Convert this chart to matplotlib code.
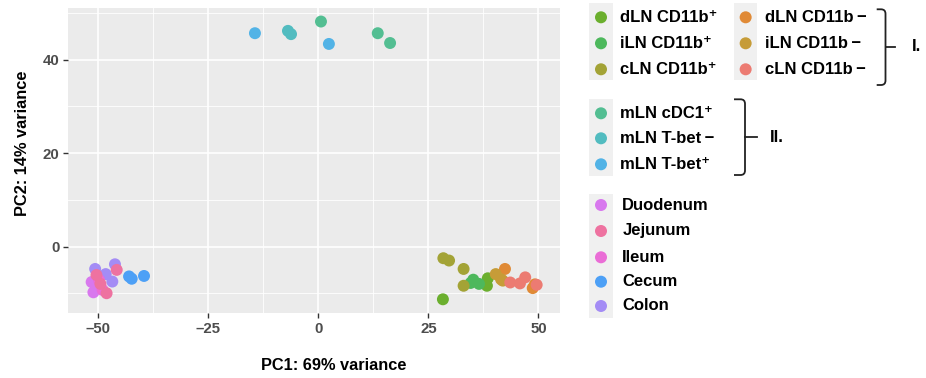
import matplotlib
matplotlib.use("Agg")
import matplotlib.pyplot as plt
from matplotlib.patches import Rectangle, Circle
from matplotlib.path import Path
from matplotlib.patches import PathPatch

plt.rcParams['font.family'] = ['Liberation Sans', 'DejaVu Sans']
plt.rcParams['font.weight'] = 'bold'

# ---------------- data ----------------
group1_labels = ["dLN CD11b\u207a", "iLN CD11b\u207a", "cLN CD11b\u207a",
                 "dLN CD11b\u2009\u2212", "iLN CD11b\u2009\u2212", "cLN CD11b\u2009\u2212"]
group2_labels = ["mLN cDC1\u207a", "mLN T-bet\u2009\u2212", "mLN T-bet\u207a"]
group3_labels = ["Duodenum", "Jejunum", "Ileum", "Cecum", "Colon"]

colors = {
    "dLN CD11b\u207a": "#6BAF2E", "iLN CD11b\u207a": "#4DB85C", "cLN CD11b\u207a": "#A3A336",
    "dLN CD11b\u2009\u2212": "#E08A36", "iLN CD11b\u2009\u2212": "#C69C38", "cLN CD11b\u2009\u2212": "#EC7B72",
    "mLN cDC1\u207a": "#53BE92", "mLN T-bet\u2009\u2212": "#52BCC0", "mLN T-bet\u207a": "#52B3E6",
    "Duodenum": "#D878EE", "Jejunum": "#EE72A0", "Ileum": "#EA6DD6",
    "Cecum": "#4DA0F6", "Colon": "#A48CF5",
}

dLN_pos_x = [28.3, 38.5, 38.3]
dLN_pos_y = [-11.3, -6.8, -8.4]
iLN_pos_x = [35.2, 36.5, 34.6]
iLN_pos_y = [-7.1, -8.0, -7.8]
cLN_pos_x = [28.4, 29.7, 33.0, 33.0]
cLN_pos_y = [-2.5, -3.0, -4.8, -8.4]
dLN_neg_x = [42.4, 48.7, 49.2]
dLN_neg_y = [-4.8, -8.9, -8.1]
iLN_neg_x = [40.3, 41.9, 41.5]
iLN_neg_y = [-5.9, -7.3, -7.0]
cLN_neg_x = [43.6, 45.8, 47.0, 49.6]
cLN_neg_y = [-7.7, -7.9, -6.6, -8.2]
cDC1_x = [0.6, 13.5, 16.3]
cDC1_y = [48.2, 45.7, 43.6]
Tbet_neg_x = [-6.9, -6.2]
Tbet_neg_y = [46.2, 45.5]
Tbet_pos_x = [-14.4, 2.4]
Tbet_pos_y = [45.7, 43.4]
duo_x = [-51.5, -51.1, -50.6]
duo_y = [-7.6, -9.8, -8.3]
jej_x = [-50.4, -49.5, -48.1, -45.8]
jej_y = [-6.1, -8.0, -10.0, -5.0]
ile_x = [-49.0, -49.8]
ile_y = [-9.3, -7.2]
cec_x = [-43.0, -42.4, -39.6]
cec_y = [-6.4, -6.9, -6.3]
col_x = [-50.7, -46.2, -48.3, -46.8]
col_y = [-4.8, -3.8, -5.9, -7.5]

series = [
    (group1_labels[0], dLN_pos_x, dLN_pos_y),
    (group1_labels[1], iLN_pos_x, iLN_pos_y),
    (group1_labels[2], cLN_pos_x, cLN_pos_y),
    (group1_labels[3], dLN_neg_x, dLN_neg_y),
    (group1_labels[4], iLN_neg_x, iLN_neg_y),
    (group1_labels[5], cLN_neg_x, cLN_neg_y),
    (group2_labels[0], cDC1_x, cDC1_y),
    (group2_labels[1], Tbet_neg_x, Tbet_neg_y),
    (group2_labels[2], Tbet_pos_x, Tbet_pos_y),
    ("Colon", col_x, col_y),
    ("Duodenum", duo_x, duo_y),
    ("Ileum", ile_x, ile_y),
    ("Jejunum", jej_x, jej_y),
    ("Cecum", cec_x, cec_y),
]

x_ticks = [-50, -25, 0, 25, 50]
x_ticklabels = ["\u201350", "\u201325", "0", "25", "50"]
y_ticks = [0, 20, 40]

W, H = 926, 378
fig = plt.figure(figsize=(W / 100, H / 100), dpi=100)
fig.patch.set_facecolor("white")

# panel pixel bounds
L, R, T, B = 68.3, 560.0, 8.0, 313.3
ax = fig.add_axes([L / W, 1 - B / H, (R - L) / W, (B - T) / H])
ax.set_facecolor("#EBEBEB")
ax.set_xlim(-56.8, 54.9)
ax.set_ylim(-14.3, 51.1)
for s in ax.spines.values():
    s.set_visible(False)

for v in [-37.5, -12.5, 12.5, 37.5]:
    ax.axvline(v, color="white", lw=0.6, zorder=0)
for v in [-10, 10, 30, 50]:
    ax.axhline(v, color="white", lw=0.6, zorder=0)
for v in x_ticks:
    ax.axvline(v, color="white", lw=1.2, zorder=0)
for v in y_ticks:
    ax.axhline(v, color="white", lw=1.2, zorder=0)

for name, xs, ys in series:
    ax.scatter(xs, ys, s=74, color=colors[name], edgecolors="none", zorder=3)

ax.set_xticks(x_ticks)
ax.set_xticklabels(x_ticklabels)
ax.set_yticks(y_ticks)
ax.tick_params(axis="both", length=3.5, width=1.0, color="#333333",
               labelcolor="#4D4D4D", labelsize=10.8, pad=3)
for lab in ax.get_xticklabels() + ax.get_yticklabels():
    lab.set_fontweight("bold")

fig.text(334 / W, 1 - 366 / H, "PC1: 69% variance", ha="center", va="center",
         fontsize=11.8, fontweight="bold", color="black")
fig.text(22.5 / W, 1 - 143 / H, "PC2: 14% variance", ha="center", va="center",
         rotation=90, fontsize=11.8, fontweight="bold", color="black")

# ---------------- legend overlay (pixel coords) ----------------
lax = fig.add_axes([0, 0, 1, 1], facecolor="none")
lax.set_xlim(0, W)
lax.set_ylim(H, 0)
lax.axis("off")

key_bg = "#F0F0F0"
dot_r = 6.0
fs = 12

def key_block(x0, x1, y0, y1, labels, ys, tx):
    lax.add_patch(Rectangle((x0, y0), x1 - x0, y1 - y0, facecolor=key_bg, edgecolor="none"))
    cx = (x0 + x1) / 2
    for lab, yy in zip(labels, ys):
        lax.add_patch(Circle((cx, yy), dot_r, facecolor=colors[lab], edgecolor="none"))
        lax.text(tx, yy, lab, ha="left", va="center", fontsize=fs, fontweight="bold", color="black")

key_block(589.3, 612.7, 3.3, 80, group1_labels[:3], [17.3, 43.3, 69.3], 620)
key_block(734, 757.3, 3.3, 80, group1_labels[3:], [17.3, 43.3, 69.3], 765)
key_block(589.3, 612.7, 99.3, 176, group2_labels, [113.3, 138.3, 164.3], 620)
key_block(589.3, 612.7, 194, 318, group3_labels, [205, 231, 257.3, 281.7, 306], 622.3)

def brace(x_left, x_vert, y_top, y_bot, y_mid, x_tip):
    r = 4.5
    verts = [(x_left, y_top), (x_vert - r, y_top), (x_vert, y_top), (x_vert, y_top + r),
             (x_vert, y_bot - r), (x_vert, y_bot), (x_vert - r, y_bot), (x_left, y_bot)]
    codes = [Path.MOVETO, Path.LINETO, Path.CURVE3, Path.CURVE3,
             Path.LINETO, Path.CURVE3, Path.CURVE3, Path.LINETO]
    lax.add_patch(PathPatch(Path(verts, codes), facecolor="none", edgecolor="#222222", lw=1.3))
    lax.plot([x_vert, x_tip], [y_mid, y_mid], color="#222222", lw=1.3)

brace(876.7, 885.5, 9.3, 85, 46.7, 895)
lax.text(911.7, 46.7, "I.", ha="left", va="center", fontsize=fs, fontweight="bold", color="black")
brace(734, 745, 99.3, 175, 137.3, 756.7)
lax.text(770, 137.7, "II.", ha="left", va="center", fontsize=fs, fontweight="bold", color="black")

fig.savefig("out.png", dpi=100, facecolor="white")
